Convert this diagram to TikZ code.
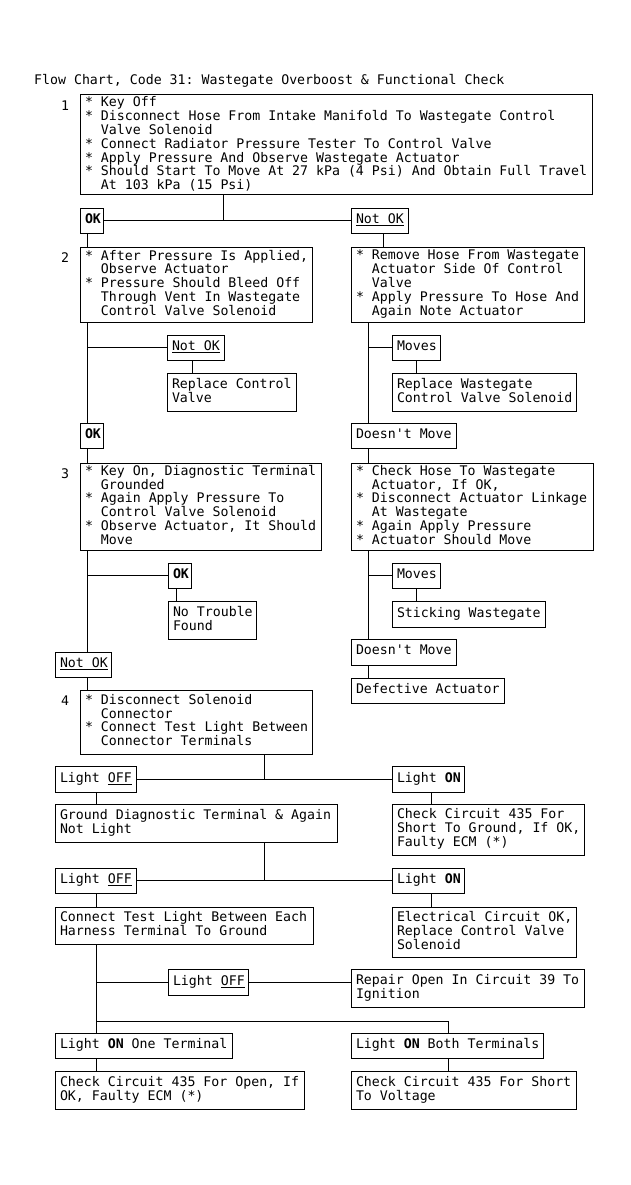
\documentclass[tikz,border=0pt]{standalone}
\usepackage{fontspec}
\setmonofont{DejaVu Sans Mono}
\newcommand\fcfont{\ttfamily\fontsize{13.24}{12.4}\selectfont}
\newcommand\fclines[1]{\begin{tabular}{@{}l@{}}#1\end{tabular}}
\newcommand\fcind{\phantom{**}}
\newcommand\fcul[1]{\setbox0\hbox{#1}\rlap{\rule[-2.3pt]{\wd0}{0.9pt}}\box0}
\tikzset{
  fcb/.style={draw, line width=1pt, inner xsep=5pt, inner ysep=0pt, outer sep=0pt, align=left, font=\fcfont},
  fcl/.style={line width=1pt},
  fcnum/.style={font=\fcfont, inner sep=0pt, anchor=base},
}
\newcommand\fcbox[6]{%
  \pgfmathsetmacro\fcw{#4-#2}%
  \pgfmathsetmacro\fch{#5-#3}%
  \pgfmathsetmacro\fctw{#4-#2-10}%
  \node[fcb, minimum width=\fcw pt, minimum height=\fch pt, text width=\fctw pt] (#1) at ({(#2+#4)/2},{(#3+#5)/2}) {\noindent\spaceskip=0pt\xspaceskip=0pt\fclines{#6}};}
\begin{document}
\begin{tikzpicture}[x=1pt,y=-1pt]
\fill[white] (0,0) rectangle (630,1185);
\useasboundingbox (0,0) rectangle (630,1185);
\node[font=\fcfont, inner sep=0pt, anchor=base west] (title) at (34,85) {Flow Chart, Code 31: Wastegate Overboost \& Functional Check};
% numbers
\node[fcnum] (n1) at (65,110.3) {1};
\node[fcnum] (n2) at (65,262.2) {2};
\node[fcnum] (n3) at (65,478) {3};
\node[fcnum] (n4) at (65,705.9) {4};
% step 1
\fcbox{b1}{80}{95}{592}{195}{{*} Key Off\\{*} Disconnect Hose From Intake Manifold To Wastegate Control\\\fcind Valve Solenoid\\{*} Connect Radiator Pressure Tester To Control Valve\\{*} Apply Pressure And Observe Wastegate Actuator\\{*} Should Start To Move At 27 kPa (4 Psi) And Obtain Full Travel\\\fcind At 103 kPa (15 Psi)}
\fcbox{ok1}{80}{208}{103}{233}{\textbf{OK}}
\fcbox{nok1}{351}{208}{408}{233}{\fcul{Not OK}}
% step 2
\fcbox{b2l}{80}{247}{312}{322}{{*} After Pressure Is Applied,\\\fcind Observe Actuator\\{*} Pressure Should Bleed Off\\\fcind Through Vent In Wastegate\\\fcind Control Valve Solenoid}
\fcbox{b2r}{351}{247}{584}{322}{{*} Remove Hose From Wastegate\\\fcind Actuator Side Of Control\\\fcind Valve\\{*} Apply Pressure To Hose And\\\fcind Again Note Actuator}
\fcbox{nok2}{167}{335}{224}{360}{\fcul{Not OK}}
\fcbox{rcv}{167}{373}{296}{411}{Replace Control\\Valve}
\fcbox{ok2}{80}{423}{103}{448}{\textbf{OK}}
\fcbox{mv1}{392}{335}{440}{360}{Moves}
\fcbox{rwcvs}{392}{373}{576}{411}{Replace Wastegate\\Control Valve Solenoid}
\fcbox{dm1}{351}{423}{456}{448}{Doesn't Move}
% step 3
\fcbox{b3l}{80}{463}{321}{550}{{*} Key On, Diagnostic Terminal\\\fcind Grounded\\{*} Again Apply Pressure To\\\fcind Control Valve Solenoid\\{*} Observe Actuator, It Should\\\fcind Move}
\fcbox{b3r}{351}{463}{593}{550}{{*} Check Hose To Wastegate\\\fcind Actuator, If OK,\\{*} Disconnect Actuator Linkage\\\fcind At Wastegate\\{*} Again Apply Pressure\\{*} Actuator Should Move}
\fcbox{ok3}{168}{563}{191}{588}{\textbf{OK}}
\fcbox{ntf}{168}{601}{256}{639}{No Trouble\\Found}
\fcbox{nok3}{55}{652}{111}{677}{\fcul{Not OK}}
\fcbox{mv2}{392}{563}{440}{588}{Moves}
\fcbox{sw}{392}{601}{545}{627}{Sticking Wastegate}
\fcbox{dm2}{351}{639}{456}{665}{Doesn't Move}
\fcbox{da}{351}{678}{504}{703}{Defective Actuator}
% step 4
\fcbox{b4}{80}{690}{312}{754}{{*} Disconnect Solenoid\\\fcind Connector\\{*} Connect Test Light Between\\\fcind Connector Terminals}
\fcbox{lo1}{55}{766}{136}{792}{Light \fcul{OFF}}
\fcbox{lon1}{392}{766}{464}{792}{Light \textbf{ON}}
\fcbox{gd}{55}{804}{337}{842}{Ground Diagnostic Terminal \& Again\\Not Light}
\fcbox{cc1}{392}{804}{584}{855}{Check Circuit 435 For\\Short To Ground, If OK,\\Faulty ECM (*)}
\fcbox{lo2}{55}{868}{136}{893}{Light \fcul{OFF}}
\fcbox{lon2}{392}{868}{464}{893}{Light \textbf{ON}}
\fcbox{ctl}{55}{907}{313}{944}{Connect Test Light Between Each\\Harness Terminal To Ground}
\fcbox{ec}{392}{907}{576}{957}{Electrical Circuit OK,\\Replace Control Valve\\Solenoid}
\fcbox{lo3}{168}{969}{248}{995}{Light \fcul{OFF}}
\fcbox{ro}{351}{969}{584}{1007}{Repair Open In Circuit 39 To\\Ignition}
\fcbox{lo1t}{55}{1033}{232}{1058}{Light \textbf{ON} One Terminal}
\fcbox{lob}{351}{1033}{543}{1058}{Light \textbf{ON} Both Terminals}
\fcbox{co}{55}{1071}{304}{1109}{Check Circuit 435 For Open, If\\OK, Faulty ECM (*)}
\fcbox{cs}{351}{1071}{576}{1109}{Check Circuit 435 For Short\\To Voltage}
% helper coordinates
\coordinate (j1) at (223,220.5);
\coordinate (colL) at (87,0);
\coordinate (colN) at (383,0);
\coordinate (colR) at (368,0);
\coordinate (c192) at (192,0);
\coordinate (c416) at (416,0);
\coordinate (c176) at (176,0);
\coordinate (j4) at (264,779);
\coordinate (j5) at (264,880.5);
\coordinate (colL2) at (96,0);
\coordinate (c431) at (431,0);
\coordinate (j6) at (448,1021);
% connectors
\draw[fcl] (b1.south -| j1) -- (j1);
\draw[fcl] (ok1.east) -- (nok1.west);
\draw[fcl] (ok1.south -| colL) -- (b2l.north -| colL);
\draw[fcl] (nok1.south -| colN) -- (b2r.north -| colN);
\draw[fcl] (b2l.south -| colL) -- (ok2.north -| colL);
\draw[fcl] (nok2.west) -- (nok2.west -| colL);
\draw[fcl] (nok2.south -| c192) -- (rcv.north -| c192);
\draw[fcl] (b2r.south -| colR) -- (dm1.north -| colR);
\draw[fcl] (mv1.west) -- (mv1.west -| colR);
\draw[fcl] (mv1.south -| c416) -- (rwcvs.north -| c416);
\draw[fcl] (ok2.south -| colL) -- (b3l.north -| colL);
\draw[fcl] (dm1.south -| colR) -- (b3r.north -| colR);
\draw[fcl] (b3l.south -| colL) -- (nok3.north -| colL);
\draw[fcl] (ok3.west) -- (ok3.west -| colL);
\draw[fcl] (ok3.south -| c176) -- (ntf.north -| c176);
\draw[fcl] (b3r.south -| colR) -- (dm2.north -| colR);
\draw[fcl] (mv2.west) -- (mv2.west -| colR);
\draw[fcl] (mv2.south -| c416) -- (sw.north -| c416);
\draw[fcl] (dm2.south -| colR) -- (da.north -| colR);
\draw[fcl] (nok3.south -| colL) -- (b4.north -| colL);
\draw[fcl] (b4.south -| j4) -- (j4);
\draw[fcl] (lo1.east) -- (lon1.west);
\draw[fcl] (lo1.south -| colL2) -- (gd.north -| colL2);
\draw[fcl] (lon1.south -| c431) -- (cc1.north -| c431);
\draw[fcl] (gd.south -| j5) -- (j5);
\draw[fcl] (lo2.east) -- (lon2.west);
\draw[fcl] (lo2.south -| colL2) -- (ctl.north -| colL2);
\draw[fcl] (lon2.south -| c431) -- (ec.north -| c431);
\draw[fcl] (ctl.south -| colL2) -- (lo1t.north -| colL2);
\draw[fcl] (lo3.west) -- (lo3.west -| colL2);
\draw[fcl] (lo3.east) -- (lo3.east -| ro.west);
\draw[fcl] (j6 -| colL2) -- (j6) -- (lob.north -| j6);
\draw[fcl] (lo1t.south -| colL2) -- (co.north -| colL2);
\draw[fcl] (lob.south -| j6) -- (cs.north -| j6);
\end{tikzpicture}
\end{document}
